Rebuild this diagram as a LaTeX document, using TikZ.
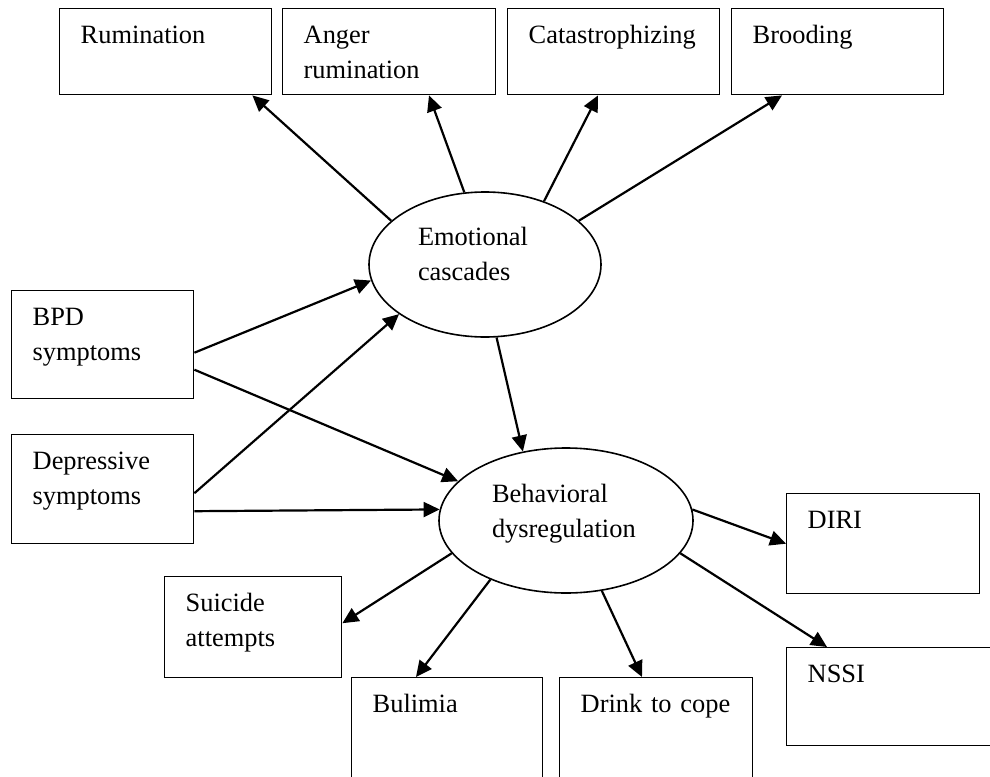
\documentclass[tikz,border=0pt]{standalone}
\usepackage{fontspec}
\setmainfont{Liberation Serif}
\usetikzlibrary{shapes.geometric, arrows.meta, calc}

\newcommand{\diagfont}{\fontsize{13.2pt}{17.5pt}\selectfont\hyphenpenalty=10000 }

\begin{document}
\begin{tikzpicture}[x=0.5pt, y=-0.5pt, >={Triangle[length=8pt, width=7.5pt]},
        measure/.style={rectangle, draw, line width=0.7pt, anchor=north west, align=left, inner xsep=10.5pt, inner ysep=0pt, text height=17.5pt, font=\diagfont},
        construct/.style={ellipse, draw, line width=0.8pt, align=left, inner sep=0pt, text height=10pt, font=\diagfont},
        effect/.style={->, line width=1.1pt}]
    \useasboundingbox (0,0) rectangle (990,776);

    % Cognitive processes
    \node (rum) [measure, text width=85pt, text depth=25.5pt] at (59,8) {Rumination};
    \node (anger) [measure, text width=85.5pt, text depth=25.5pt] at (282,8) {Anger\\rumination};
    \node (cata) [measure, text width=85pt, text depth=25.5pt] at (507,8) {Catastrophizing};
    \node (brood) [measure, text width=85pt, text depth=25.5pt] at (731,8) {Brooding};

    % Symptoms
    \node (bpd) [measure, text width=70pt, text depth=36.5pt] at (11,290) {BPD\\symptoms};
    \node (dep) [measure, text width=70pt, text depth=37pt] at (11,434) {Depressive\\symptoms};

    % Latent constructs
    \node (emo) [construct, minimum width=116pt, minimum height=72.5pt, text width=67pt, text depth=29.5pt] at (485,264.5) {Emotional\\cascades};
    \node (beh) [construct, minimum width=127pt, minimum height=72.5pt, text width=74pt, text depth=28.5pt] at (566,520.5) {Behavioral\\dysregulation};

    % Behaviors
    \node (diri) [measure, text width=75.5pt, text depth=32.5pt] at (786,493) {DIRI};
    \node (nssi) [measure, text width=84pt, text depth=31.5pt] at (786,647) {NSSI};
    \node (suicide) [measure, text width=67.5pt, text depth=33pt] at (164,576) {Suicide\\attempts};
    \node (bulimia) [measure, text width=74.5pt, text depth=32.5pt] at (351,677) {Bulimia};
    \node (drink) [measure, text width=75.5pt, text depth=32.5pt] at (559,677) {Drink to cope};

    % Cascades to cognitive processes
    \draw [effect] (emo.155) -- ($(rum.south east)+(-20,0)$);
    \draw [effect] (emo.106) -- ($(anger.south west)+(147,0)$);
    \draw [effect] (emo.47) -- ($(cata.south west)+(91,0)$);
    \draw [effect] (emo.25) -- ($(brood.south west)+(51,0)$);

    % Symptoms to constructs
    \draw [effect] ($(bpd.east)+(0,8)$) -- (emo.188);
    \draw [effect] ($(bpd.east)+(0,25)$) -- (beh.160);
    \draw [effect] ($(dep.east)+(0,4)$) -- (emo.210);
    \draw [effect] ($(dep.east)+(0,22)$) -- (beh.175);
    \draw [effect] (emo.279) -- (beh.122);

    % Dysregulation to behaviors
    \draw [effect] (beh.5) -- (diri.west);
    \draw [effect] (beh.344) -- ($(nssi.north west)+(41,0)$);
    \draw [effect] (beh.297) -- ($(drink.north west)+(83,0)$);
    \draw [effect] (beh.218) -- ($(bulimia.north west)+(65,0)$);
    \draw [effect] (beh.196) -- ($(suicide.east)+(0,-4)$);

\end{tikzpicture}
\end{document}
